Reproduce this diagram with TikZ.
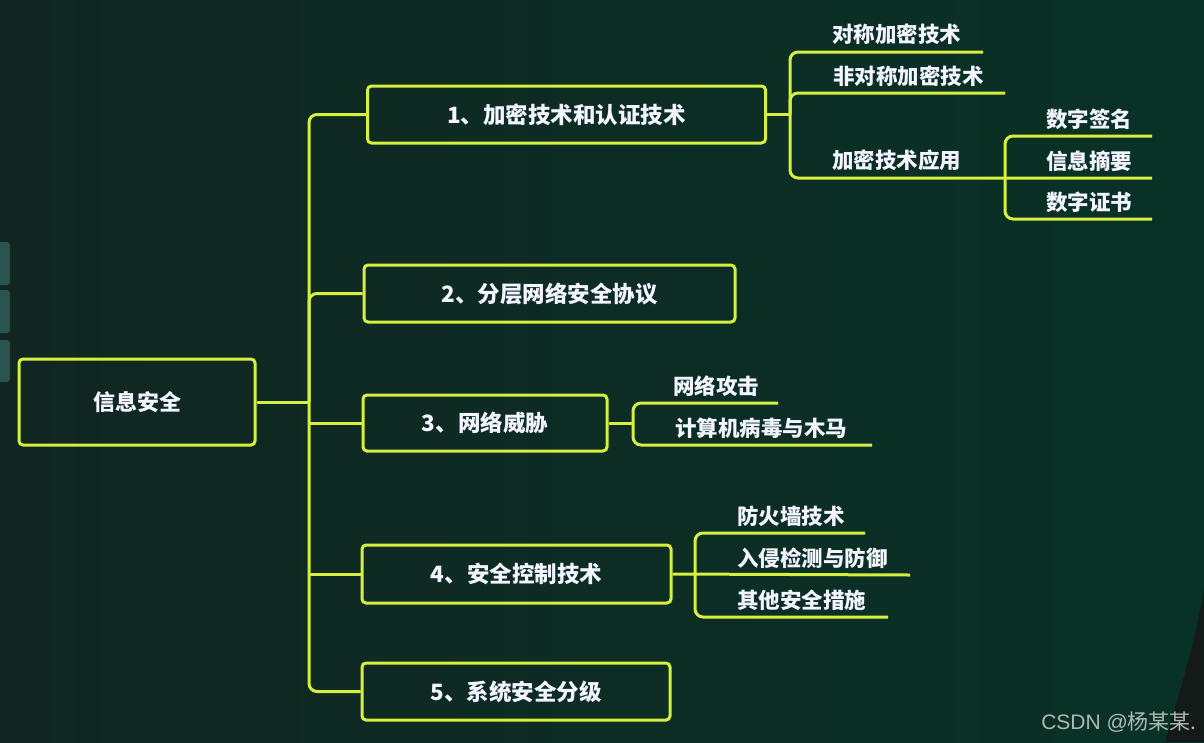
\documentclass[tikz,border=0pt]{standalone}
\usepackage{fontspec}
\newfontfamily\cjk{Noto Sans CJK SC}
\newfontfamily\lsans{Liberation Sans}
\definecolor{lc}{RGB}{214,240,64}
\definecolor{tc}{RGB}{242,244,255}
\definecolor{bgA}{RGB}{17,38,33}
\definecolor{bgB}{RGB}{9,50,39}
\definecolor{tabc}{RGB}{42,84,78}
\definecolor{wmc}{RGB}{175,185,180}
\definecolor{darkc}{RGB}{20,26,24}
\begin{document}
\begin{tikzpicture}[x=1pt,y=-1pt,
  box/.style={draw=lc, line width=3pt, rounded corners=4pt, text=tc, inner sep=0pt,
    font=\cjk\bfseries\fontsize{22.5}{26}\selectfont},
  rootbox/.style={box, font=\cjk\bfseries\fontsize{22}{26}\selectfont},
  leaf/.style={text=tc, inner sep=0pt, anchor=west,
    font=\cjk\bfseries\fontsize{21.5}{24}\selectfont},
  conn/.style={draw=lc, line width=3pt},
  branch/.style={conn, rounded corners=8pt},
  tab/.style={fill=tabc, rounded corners=3pt}]
% background
\shade[left color=bgA, right color=bgB] (0,0) rectangle (1204,742);
\useasboundingbox (0,0) rectangle (1204,742);
\fill[darkc] (1204,588) .. controls (1196,640) and (1180,690) .. (1165,742) -- (1204,742) -- cycle;
\fill[tab] (-5,242) rectangle (10,285);
\fill[tab] (-5,290) rectangle (10,333);
\fill[tab] (-5,340) rectangle (10,382);

% main boxes
\node[rootbox, minimum width=236pt, minimum height=86pt] (root) at (137,402) {信息安全};
\node[box, minimum width=398pt, minimum height=57pt] (b1) at (566.5,114.5) {1、加密技术和认证技术};
\node[box, minimum width=371pt, minimum height=57pt] (b2) at (549.5,293.5) {2、分层网络安全协议};
\node[box, minimum width=244pt, minimum height=56pt] (b3) at (485,423) {3、网络威胁};
\node[box, minimum width=309pt, minimum height=58pt] (b4) at (516.5,574) {4、安全控制技术};
\node[box, minimum width=308pt, minimum height=57pt] (b5) at (516,691.5) {5、系统安全分级};

% trunk
\coordinate (J) at (309,402);
\draw[conn] (root.east) -- (J);
\draw[branch] (b1.west) -| (J) |- (b5.west);
\draw[branch] (J) |- (b2.west);
\draw[conn] (b3.west) -- (J |- b3.west);
\draw[conn] (b4.west) -- (J |- b4.west);

% subtree 1
\coordinate (v1) at (790,114.5);
\coordinate (a1) at (983,52);
\coordinate (a2) at (1005,93);
\coordinate (a3) at (1152,178);
\draw[conn] (b1.east) -- (v1);
\draw[branch] (a1) -| (v1) |- (a3);
\draw[branch] (v1) |- (a2);
\node[leaf] (t11) at (832,34) {对称加密技术};
\node[leaf] (t12) at (833,76) {非对称加密技术};
\node[leaf] (t13) at (832,160) {加密技术应用};

\coordinate (v2) at (1005,178);
\coordinate (c1) at (1152,136);
\coordinate (c3) at (1152,219);
\draw[branch] (c1) -| (v2) |- (c3);
\node[leaf] (t131) at (1046,119) {数字签名};
\node[leaf] (t132) at (1046,161) {信息摘要};
\node[leaf] (t133) at (1046,202) {数字证书};

% subtree 3
\coordinate (v3) at (633,423);
\coordinate (d1) at (778,403);
\coordinate (d2) at (872,445);
\draw[conn] (b3.east) -- (v3);
\draw[branch] (d1) -| (v3) |- (d2);
\node[leaf] (t31) at (673,386) {网络攻击};
\node[leaf] (t32) at (675,428) {计算机病毒与木马};

% subtree 4
\coordinate (v4) at (695,575);
\coordinate (e1) at (865,533);
\coordinate (e2) at (910,575);
\coordinate (e3) at (888,617);
\draw[conn] (b4.east) -- (e2);
\draw[branch] (e1) -| (v4) |- (e3);
\node[leaf] (t41) at (737,516) {防火墙技术};
\node[leaf] (t42) at (737,558) {入侵检测与防御};
\node[leaf] (t43) at (737,600) {其他安全措施};

% watermark
\node[anchor=east, inner sep=0pt, text=wmc, font=\cjk\fontsize{21}{24}\selectfont] (wm) at (1197,722) {{\lsans CSDN @}杨某某.};
\end{tikzpicture}
\end{document}
